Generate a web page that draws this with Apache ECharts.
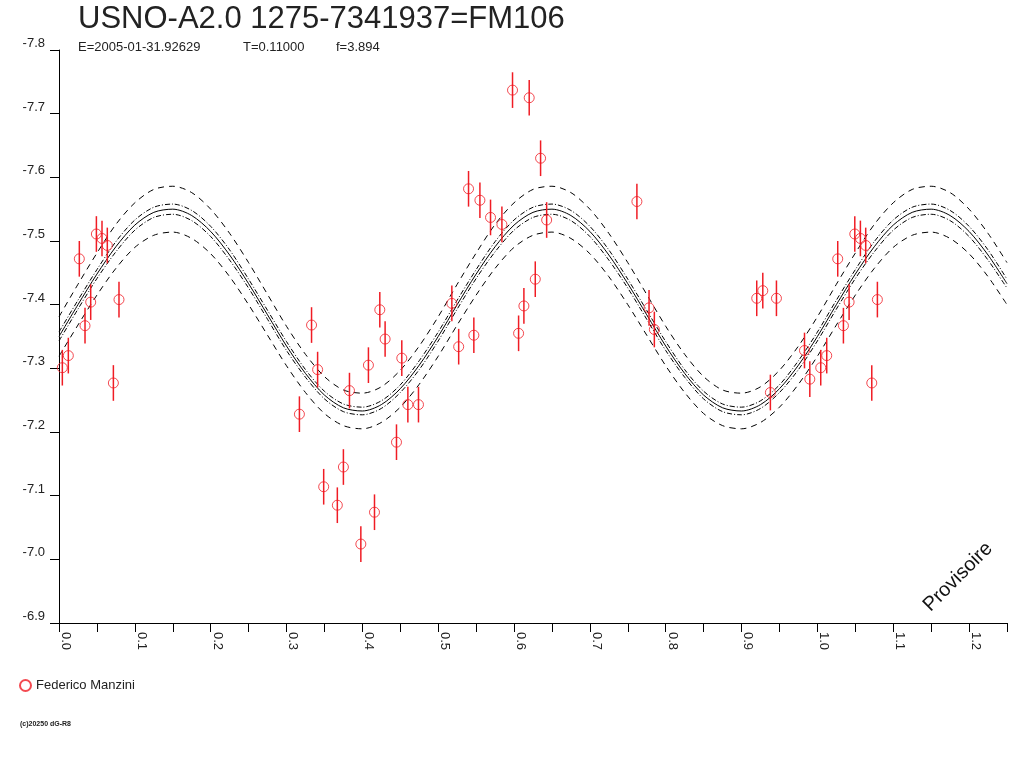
<!DOCTYPE html>
<html>
<head>
<meta charset="utf-8">
<title>USNO-A2.0 1275-7341937=FM106</title>
<script src="https://cdn.jsdelivr.net/npm/echarts@6/dist/echarts.min.js"></script>
<style>
	html, body { margin: 0; padding: 0; background: #fff; }
	#chart { width: 1024px; height: 768px; }
</style>
</head>
<body>
<div id="chart"></div>
<script>
var obsPhase = [0.0044, 0.0123, 0.0268, 0.0343, 0.0418, 0.0493, 0.0567, 0.0637, 0.0717, 0.0791,
	0.317, 0.333, 0.341, 0.349, 0.367, 0.375, 0.383, 0.398, 0.408, 0.416, 0.423, 0.430, 0.445, 0.452, 0.460, 0.474,
	0.518, 0.527, 0.540, 0.547, 0.555, 0.569, 0.584, 0.598, 0.606, 0.613, 0.620, 0.628, 0.635, 0.643,
	0.762, 0.778, 0.785,
	0.920, 0.928, 0.938, 0.946, 0.983, 0.990];
var obsMag = [-7.301, -7.320, -7.472, -7.367, -7.404, -7.511, -7.504, -7.493, -7.277, -7.408,
	-7.228, -7.368, -7.298, -7.114, -7.085, -7.145, -7.265, -7.024, -7.305, -7.074, -7.392, -7.346, -7.184, -7.316, -7.243, -7.243,
	-7.402, -7.334, -7.582, -7.352, -7.564, -7.537, -7.526, -7.737, -7.355, -7.398, -7.725, -7.440, -7.630, -7.533,
	-7.562, -7.395, -7.361,
	-7.410, -7.422, -7.262, -7.410, -7.328, -7.283];
var obsErr = 0.028;
var observer = 'Federico Manzini';

// fitted curve and its envelopes, every 0.025 in phase
var fitPhase = [0, 0.025, 0.05, 0.075, 0.10, 0.125, 0.15, 0.175, 0.20, 0.225,
	0.25, 0.275, 0.30, 0.325, 0.35, 0.375, 0.40, 0.425, 0.45, 0.475,
	0.50, 0.525, 0.55, 0.575, 0.60, 0.625, 0.65, 0.675, 0.70, 0.725,
	0.75, 0.775, 0.80, 0.825, 0.85, 0.875, 0.90, 0.925, 0.95, 0.975,
	1.00, 1.025, 1.05, 1.075, 1.10, 1.125, 1.15, 1.175, 1.20, 1.225, 1.25];
var fitMid = [-7.350, -7.400, -7.448, -7.491, -7.525, -7.545, -7.550, -7.540, -7.515, -7.478,
	-7.433, -7.384, -7.335, -7.292, -7.258, -7.238, -7.233, -7.243, -7.268, -7.305,
	-7.350, -7.400, -7.448, -7.491, -7.525, -7.545, -7.550, -7.540, -7.515, -7.478,
	-7.433, -7.384, -7.335, -7.292, -7.258, -7.238, -7.233, -7.243, -7.268, -7.305,
	-7.350, -7.400, -7.448, -7.491, -7.525, -7.545, -7.550, -7.540, -7.515, -7.478, -7.433];
var fitInnerUp = [-7.357, -7.407, -7.455, -7.499, -7.533, -7.553, -7.558, -7.548, -7.523, -7.486,
	-7.440, -7.391, -7.342, -7.298, -7.264, -7.244, -7.239, -7.249, -7.274, -7.312,
	-7.357, -7.407, -7.455, -7.499, -7.533, -7.553, -7.558, -7.548, -7.523, -7.486,
	-7.440, -7.391, -7.342, -7.298, -7.264, -7.244, -7.239, -7.249, -7.274, -7.312,
	-7.357, -7.407, -7.455, -7.499, -7.533, -7.553, -7.558, -7.548, -7.523, -7.486, -7.440];
var fitInnerLow = [-7.343, -7.393, -7.441, -7.483, -7.517, -7.537, -7.542, -7.532, -7.507, -7.470,
	-7.426, -7.377, -7.328, -7.286, -7.252, -7.232, -7.227, -7.237, -7.262, -7.298,
	-7.343, -7.393, -7.441, -7.483, -7.517, -7.537, -7.542, -7.532, -7.507, -7.470,
	-7.426, -7.377, -7.328, -7.286, -7.252, -7.232, -7.227, -7.237, -7.262, -7.298,
	-7.343, -7.393, -7.441, -7.483, -7.517, -7.537, -7.542, -7.532, -7.507, -7.470, -7.426];
var fitOuterUp = [-7.381, -7.432, -7.481, -7.526, -7.560, -7.581, -7.586, -7.576, -7.550, -7.512,
	-7.466, -7.416, -7.366, -7.322, -7.287, -7.266, -7.261, -7.271, -7.297, -7.335,
	-7.381, -7.432, -7.481, -7.526, -7.560, -7.581, -7.586, -7.576, -7.550, -7.512,
	-7.466, -7.416, -7.366, -7.322, -7.287, -7.266, -7.261, -7.271, -7.297, -7.335,
	-7.381, -7.432, -7.481, -7.526, -7.560, -7.581, -7.586, -7.576, -7.550, -7.512, -7.466];
var fitOuterLow = [-7.319, -7.368, -7.415, -7.457, -7.490, -7.509, -7.514, -7.504, -7.480, -7.444,
	-7.400, -7.352, -7.304, -7.262, -7.229, -7.210, -7.205, -7.215, -7.239, -7.275,
	-7.319, -7.368, -7.415, -7.457, -7.490, -7.509, -7.514, -7.504, -7.480, -7.444,
	-7.400, -7.352, -7.304, -7.262, -7.229, -7.210, -7.205, -7.215, -7.239, -7.275,
	-7.319, -7.368, -7.415, -7.457, -7.490, -7.509, -7.514, -7.504, -7.480, -7.444, -7.400];

var phaseMax = 1.25;
var titleText = 'USNO-A2.0 1275-7341937=FM106';
var infoTexts = ['E=2005-01-31.92629', 'T=0.11000', 'f=3.894'];

var RED = '#f01c24';
var FONT = '"Liberation Sans", Arial, sans-serif';

// points are repeated one cycle later while they stay on the axis
var points = [];
for (var i = 0; i < obsPhase.length; i++) {
	points.push([obsPhase[i], obsMag[i]]);
}
for (var i = 0; i < obsPhase.length; i++) {
	if (obsPhase[i] + 1 <= phaseMax) {
		points.push([obsPhase[i] + 1, obsMag[i]]);
	}
}

function pairs(ys) {
	var out = [];
	for (var k = 0; k < fitPhase.length; k++) {
		out.push([fitPhase[k], ys[k]]);
	}
	return out;
}

function fitLine(name, ys, type) {
	return {
		name: name,
		type: 'line',
		data: pairs(ys),
		smooth: 0.3,
		symbol: 'none',
		silent: true,
		lineStyle: { color: '#000', width: 1, type: type },
		z: 1
	};
}

var myChart = echarts.init(document.getElementById('chart'));

var option = {
	animation: false,
	textStyle: { fontFamily: FONT },
	grid: { left: 59, right: 17, top: 50, bottom: 145, containLabel: false },
	legend: {
		data: [{ name: observer, icon: 'circle' }],
		left: 14,
		top: 674,
		itemWidth: 11,
		itemHeight: 11,
		itemGap: 6,
		textStyle: { fontFamily: FONT, fontSize: 13, color: '#222' }
	},
	xAxis: {
		type: 'value',
		min: 0,
		max: phaseMax,
		interval: 0.1,
		splitLine: { show: false },
		axisLine: { onZero: false, lineStyle: { color: '#000', width: 1 } },
		axisTick: { length: 9, lineStyle: { color: '#000' } },
		minorTick: { show: true, splitNumber: 2, length: 9, lineStyle: { color: '#000' } },
		axisLabel: {
			rotate: -90,
			align: 'left',
			verticalAlign: 'bottom',
			margin: 9,
			showMaxLabel: false,
			fontFamily: FONT,
			fontSize: 13,
			color: '#222',
			formatter: function(v) { return v.toFixed(1); }
		}
	},
	yAxis: {
		type: 'value',
		inverse: true,
		min: -7.8,
		max: -6.9,
		interval: 0.1,
		splitLine: { show: false },
		axisLine: { onZero: false, lineStyle: { color: '#000', width: 1 } },
		axisTick: { length: 9, lineStyle: { color: '#000' } },
		axisLabel: {
			margin: 14,
			verticalAlign: 'bottom',
			lineHeight: 13,
			fontFamily: FONT,
			fontSize: 13,
			color: '#222',
			formatter: function(v) { return v.toFixed(1); }
		}
	},
	graphic: [
		{ type: 'text', left: 78, top: 4, silent: true,
			style: { text: titleText, font: '31px ' + FONT, fill: '#222' } },
		{ type: 'text', left: 78, top: 41, silent: true,
			style: { text: infoTexts[0], font: '13px ' + FONT, fill: '#222' } },
		{ type: 'text', left: 243, top: 41, silent: true,
			style: { text: infoTexts[1], font: '13px ' + FONT, fill: '#222' } },
		{ type: 'text', left: 336, top: 41, silent: true,
			style: { text: infoTexts[2], font: '13px ' + FONT, fill: '#222' } },
		{ type: 'text', x: 958, y: 577, rotation: Math.PI / 4, silent: true,
			style: { text: 'Provisoire', font: '20px ' + FONT, fill: '#111', align: 'center', verticalAlign: 'middle' } },
		{ type: 'text', left: 20, top: 721, silent: true,
			style: { text: '(c)20250 dG-R8', font: 'bold 7px ' + FONT, fill: '#222' } }
	],
	series: [
		fitLine('outerUp', fitOuterUp, [6, 5]),
		fitLine('innerUp', fitInnerUp, [5, 2, 1, 2]),
		fitLine('mid', fitMid, 'solid'),
		fitLine('innerLow', fitInnerLow, [5, 2, 1, 2]),
		fitLine('outerLow', fitOuterLow, [6, 5]),
		{
			// error bars
			name: 'err',
			type: 'custom',
			data: points,
			encode: { x: 0, y: 1 },
			silent: true,
			z: 2,
			renderItem: function(params, api) {
				var a = api.coord([api.value(0), api.value(1) - obsErr]);
				var b = api.coord([api.value(0), api.value(1) + obsErr]);
				return {
					type: 'line',
					shape: { x1: a[0], y1: a[1], x2: b[0], y2: b[1] },
					style: { stroke: RED, lineWidth: 1.5 }
				};
			}
		},
		{
			name: observer,
			type: 'scatter',
			data: points,
			symbol: 'circle',
			symbolSize: 10,
			z: 3,
			itemStyle: { color: 'rgba(0,0,0,0)', borderColor: RED, borderWidth: 1 }
		}
	]
};

myChart.setOption(option, true);
</script>
</body>
</html>
